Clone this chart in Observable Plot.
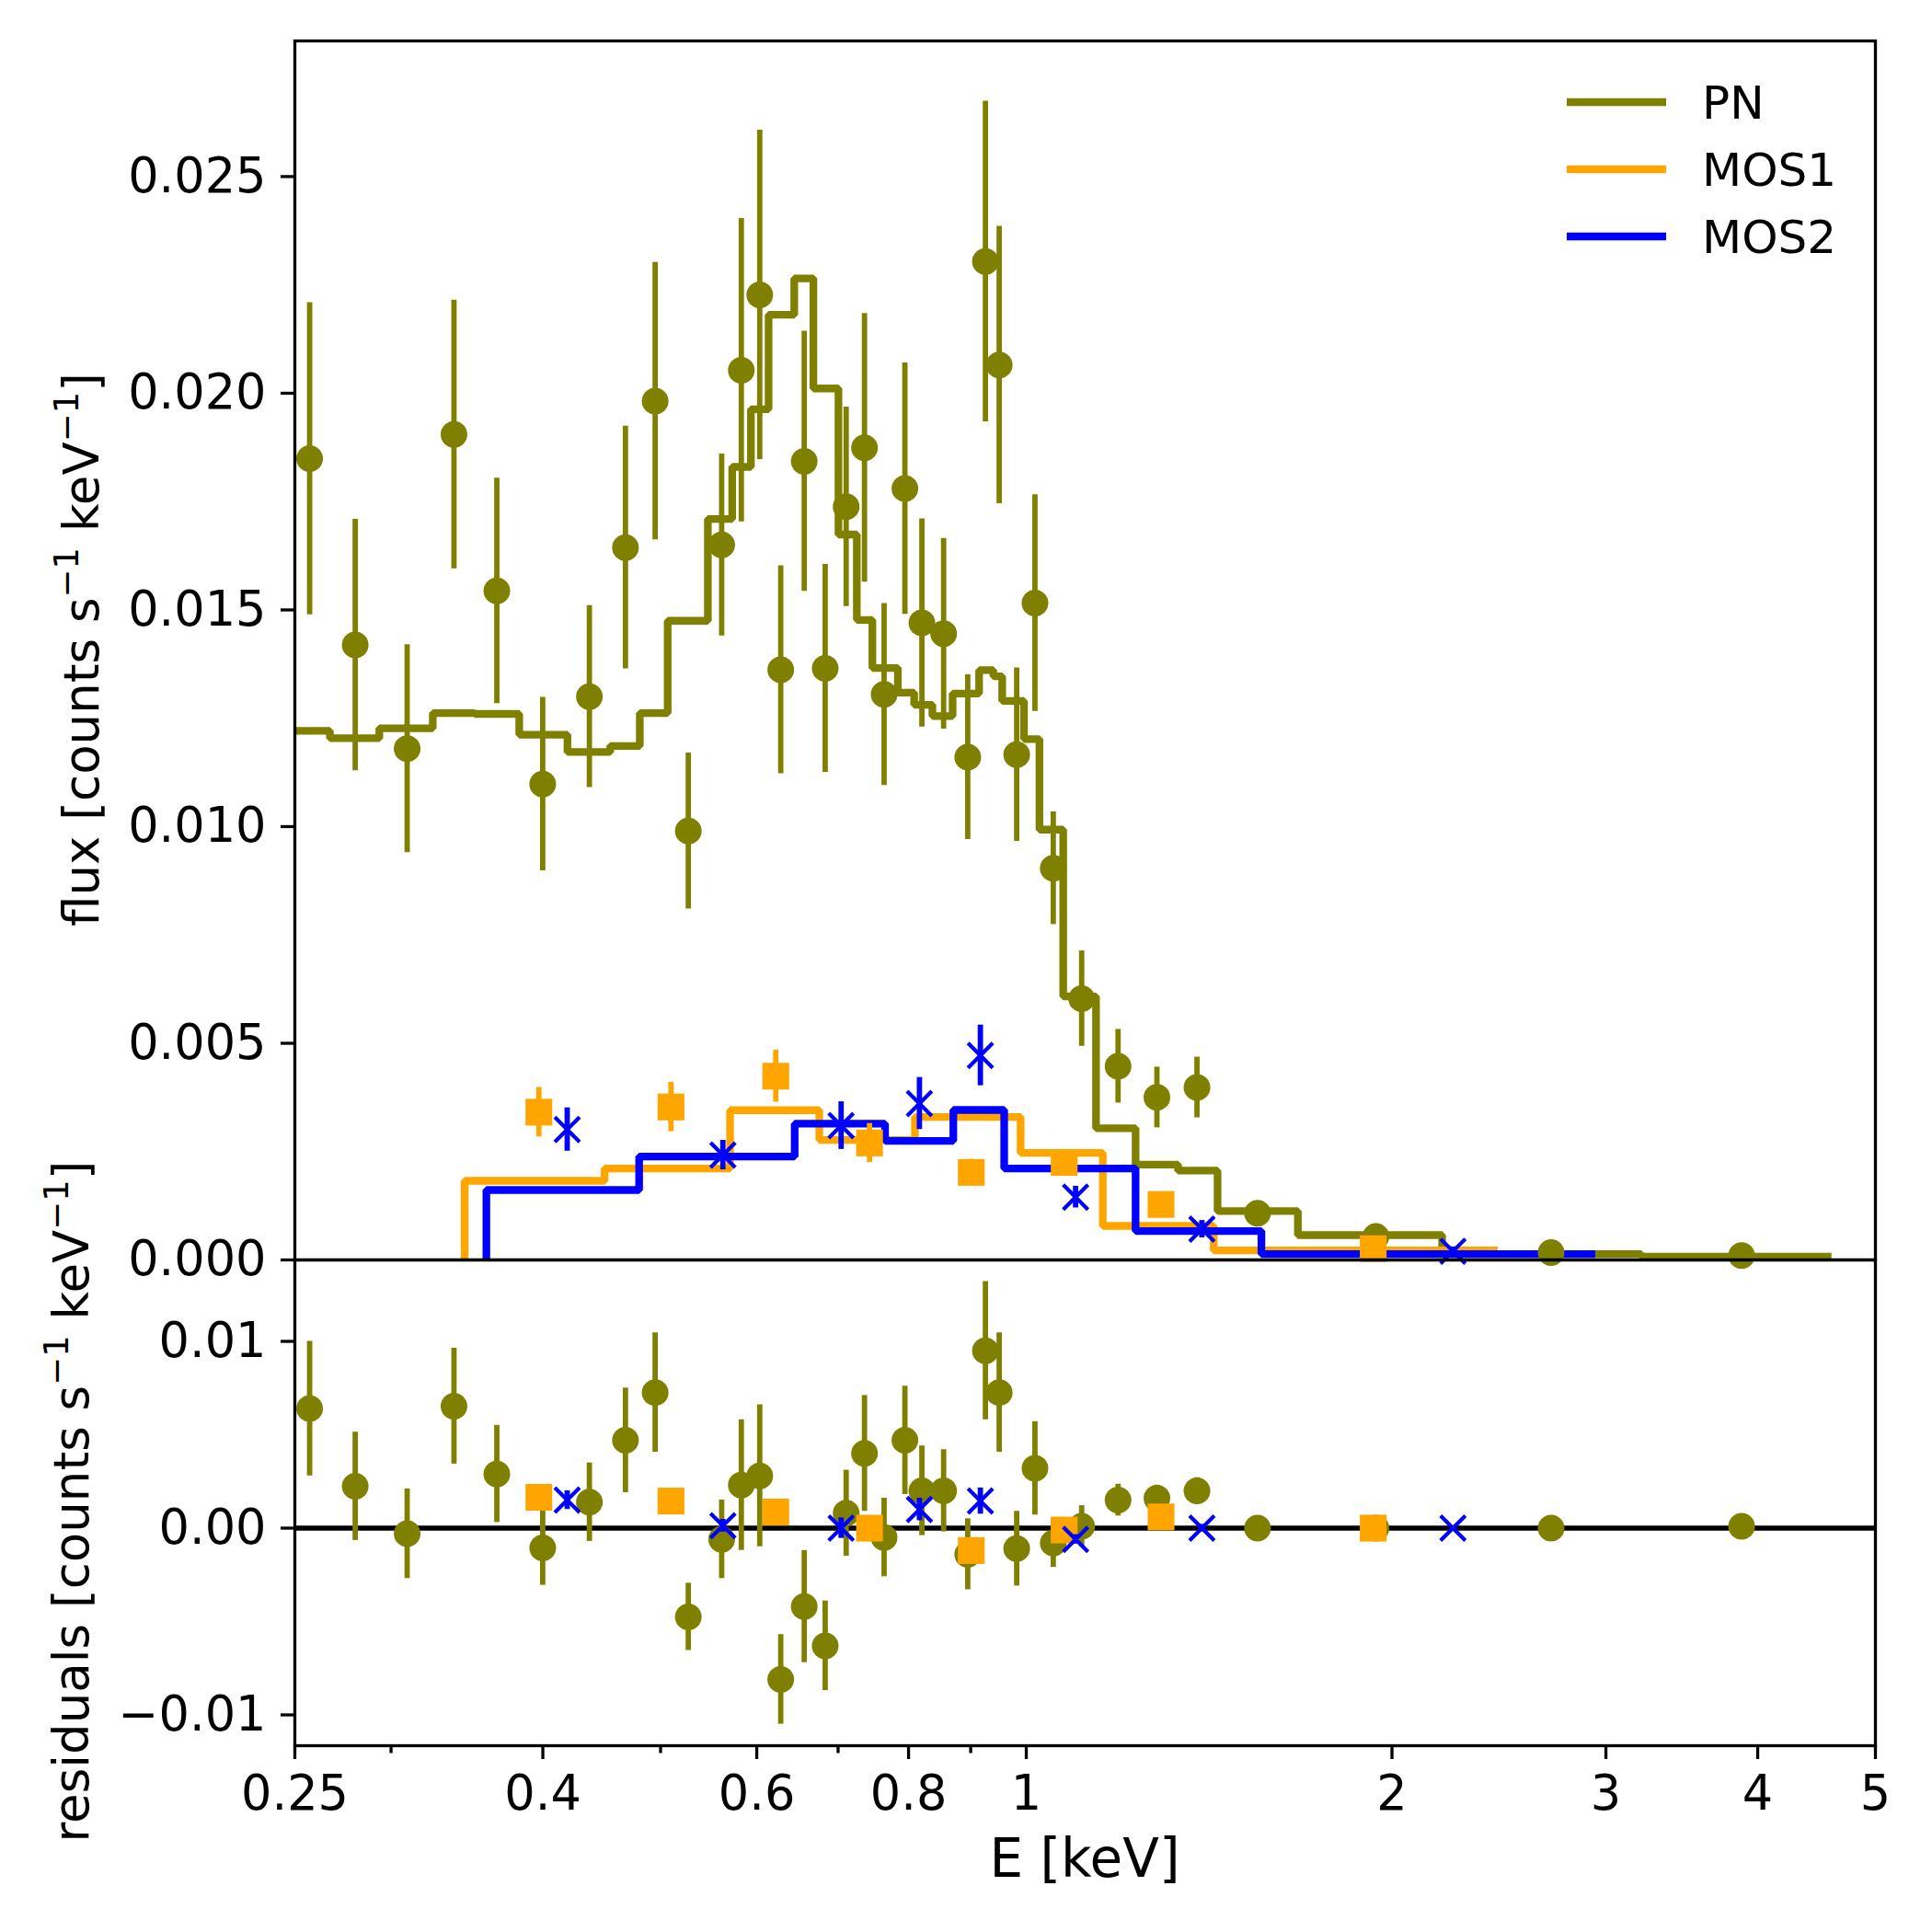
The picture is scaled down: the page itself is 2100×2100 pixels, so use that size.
<!DOCTYPE html>
<html>
<head>
<meta charset="utf-8">
<script src="https://cdn.jsdelivr.net/npm/d3@7"></script>
<script src="https://cdn.jsdelivr.net/npm/@observablehq/plot@0.6"></script>
<style>
  body { margin: 0; background: #fff; }
  #chart { position: relative; width: 2100px; height: 2100px; background: #fff; font-family: "DejaVu Sans", sans-serif; }
  #chart > svg { position: absolute; left: 0; }
</style>
</head>
<body>
<div id="chart"></div>
<script>
// ---------- data ----------
const seriesNames = ["PN", "MOS1", "MOS2"];
const seriesColors = ["olive", "orange", "blue"];

// PN data points
const pnE     = [0.2571, 0.2803, 0.3093, 0.338, 0.3666, 0.3999, 0.4369, 0.4678, 0.4949, 0.527, 0.5614, 0.5827, 0.6034, 0.6279, 0.6565, 0.6831, 0.7108, 0.7359, 0.7638, 0.7945, 0.8205, 0.855, 0.895, 0.9255, 0.950, 0.982, 1.0166, 1.0525, 1.1107, 1.19, 1.281, 1.382, 1.55, 1.94, 2.704, 3.88];
const pnFlux  = [0.01849, 0.01419, 0.0118, 0.01905, 0.01544, 0.01098, 0.0130, 0.01644, 0.01982, 0.0099, 0.0165, 0.02053, 0.02227, 0.01362, 0.01843, 0.01365, 0.01738, 0.01874, 0.01305, 0.0178, 0.0147, 0.01445, 0.0116, 0.02304, 0.02065, 0.01166, 0.01516, 0.00904, 0.00603, 0.00447, 0.00375, 0.00398, 0.00108, 0.00054, 0.00017, 0.0001];
const pnErr   = [0.0036, 0.0029, 0.0024, 0.0031, 0.0026, 0.0020, 0.0021, 0.0028, 0.0032, 0.0018, 0.0021, 0.0035, 0.0038, 0.0024, 0.0030, 0.0024, 0.0023, 0.0031, 0.0021, 0.0029, 0.0024, 0.0022, 0.0019, 0.0037, 0.0032, 0.0020, 0.0025, 0.0013, 0.0011, 0.00085, 0.0007, 0.0007, 0.00025, 0.00015, 0.0001, 0.0001];
const pnResid = [0.0064, 0.00224, -0.0003, 0.00653, 0.0029, -0.00106, 0.00139, 0.0047, 0.00726, -0.00475, -0.0006, 0.0023, 0.0028, -0.0081, -0.0042, -0.0063, 0.0008, 0.004, -0.0005, 0.0047, 0.002, 0.002, -0.0014, 0.0095, 0.00726, -0.0011, 0.0032, -0.0008, 0.0001, 0.0015, 0.0016, 0.002, 0.0, 0.0, 0.0, 0.0001];

// MOS1 data points
const m1E     = [0.397, 0.510, 0.622, 0.743, 0.901, 1.0745, 1.291, 1.93];
const m1Flux  = [0.00341, 0.00353, 0.00424, 0.0027, 0.00202, 0.00225, 0.00128, 0.00026];
const m1Err   = [0.00057, 0.00057, 0.0006, 0.00045, 0.0003, 0.0003, 0.00025, 0.0001];
const m1Resid = [0.00165, 0.00145, 0.00086, 0.0, -0.0012, -0.0001, 0.0006, 0.0];

// MOS2 data points
const m2E     = [0.4189, 0.5627, 0.704, 0.8167, 0.9167, 1.098, 1.395, 2.245];
const m2Flux  = [0.00301, 0.00242, 0.0031, 0.00361, 0.00472, 0.00145, 0.00071, 0.0002];
const m2Err   = [0.0005, 0.00034, 0.00055, 0.0006, 0.0007, 0.00025, 0.0002, 0.0001];
const m2Resid = [0.0015, 0.00013, 0.0, 0.001, 0.00145, -0.0006, 0.0, 0.0];

// step models: bin edges and values
const pnModelEdges = [0.25, 0.2672, 0.2934, 0.3247, 0.3516, 0.3825, 0.4191, 0.4545, 0.4807, 0.5068, 0.5469, 0.5727, 0.5934, 0.6136, 0.6442, 0.668, 0.7005, 0.7253, 0.747, 0.784, 0.8086, 0.837, 0.8697, 0.9145, 0.9395, 0.9554, 0.9957, 1.0253, 1.0725, 1.1413, 1.2302, 1.3333, 1.437, 1.6733, 2.1995, 3.208, 4.60];
const pnModelVals  = [0.01221, 0.01204, 0.01227, 0.01262, 0.0126, 0.01212, 0.01172, 0.01186, 0.01262, 0.01475, 0.0171, 0.0183, 0.01963, 0.02181, 0.02265, 0.02011, 0.01674, 0.01477, 0.01366, 0.01309, 0.01281, 0.01255, 0.01307, 0.01361, 0.01347, 0.0129, 0.01202, 0.00993, 0.00608, 0.003037, 0.002202, 0.00206, 0.001126, 0.000573, 0.000136, 0.0000786];
const m1ModelEdges = [0.3449, 0.4497, 0.5704, 0.6755, 0.8098, 0.9893, 1.1561, 1.4266, 2.4435];
const m1ModelVals  = [0.001826, 0.00211, 0.003455, 0.002769, 0.0033, 0.00247, 0.000786, 0.00022];
const m2ModelEdges = [0.3594, 0.4801, 0.6447, 0.7652, 0.8709, 0.959, 1.2302, 1.5615, 2.94];
const m2ModelVals  = [0.001614, 0.002387, 0.003143, 0.002748, 0.003461, 0.00211, 0.000667, 0.000136];

// axis ticks
const fluxTicks = [0, 0.005, 0.01, 0.015, 0.02, 0.025];
const residTicks = [-0.01, 0, 0.01];
const xMajorTicks = [0.25, 0.4, 0.6, 0.8, 1, 2, 3, 4, 5];
const xMinorTicks = [0.3, 0.5, 0.7, 0.9];

// ---------- build tables ----------
const pts = (E, F, Er, Rs) => E.map((e, i) => ({E: e, f: F[i], err: Er[i], r: Rs[i]}));
const pn = pts(pnE, pnFlux, pnErr, pnResid);
const m1 = pts(m1E, m1Flux, m1Err, m1Resid);
const m2 = pts(m2E, m2Flux, m2Err, m2Resid);

function steps(edges, vals, fromZero) {
  const out = [];
  if (fromZero) out.push({E: edges[0], v: 0});
  vals.forEach((v, i) => out.push({E: edges[i], v}));
  out.push({E: edges[edges.length - 1], v: vals[vals.length - 1]});
  return out;
}
const pnModel = steps(pnModelEdges, pnModelVals, false);
const m1Model = steps(m1ModelEdges, m1ModelVals, true);
const m2Model = steps(m2ModelEdges, m2ModelVals, true);

const [cPN, cM1, cM2] = seriesColors;
const FONT = "DejaVu Sans";
const TICKFS = 52.5;
const baseStyle = {background: "transparent", fontFamily: FONT, fontSize: TICKFS + "px", overflow: "visible", color: "black"};
const ERRW = 5.8, LINEW = 8.3, SPINE = 3.3;

function dataMarks(key) {
  return [
    Plot.ruleX(pn, {x: "E", y1: d => d[key] - d.err, y2: d => d[key] + d.err, stroke: cPN, strokeWidth: ERRW}),
    Plot.dot(pn, {x: "E", y: key, r: 14.5, fill: cPN}),
    Plot.ruleX(m1, {x: "E", y1: d => d[key] - d.err, y2: d => d[key] + d.err, stroke: cM1, strokeWidth: ERRW}),
    Plot.dot(m1, {x: "E", y: key, r: 16.4, symbol: "square", fill: cM1}),
    Plot.ruleX(m2, {x: "E", y1: d => d[key] - d.err, y2: d => d[key] + d.err, stroke: cM2, strokeWidth: ERRW}),
    Plot.dot(m2, {x: "E", y: key, r: 12.3, symbol: "times", stroke: cM2, strokeWidth: 4.2, fill: "none"})
  ];
}

// ---------- top panel ----------
const topPlot = Plot.plot({
  width: 2100, height: 1400,
  marginLeft: 320, marginRight: 62, marginTop: 44, marginBottom: 31,
  style: baseStyle,
  x: {type: "log", domain: [0.25, 5], axis: null},
  y: {domain: [0, 0.02813], label: null},
  marks: [
    Plot.axisY({ticks: fluxTicks, tickFormat: d3.format(".3f"), tickSize: 15, tickPadding: 16, strokeWidth: SPINE, label: null, fontSize: TICKFS}),
    Plot.line(pnModel, {x: "E", y: "v", curve: "step-after", stroke: cPN, strokeWidth: LINEW, strokeLinejoin: "miter", strokeLinecap: "butt"}),
    Plot.line(m1Model, {x: "E", y: "v", curve: "step-after", stroke: cM1, strokeWidth: LINEW, strokeLinejoin: "miter", strokeLinecap: "butt"}),
    Plot.line(m2Model, {x: "E", y: "v", curve: "step-after", stroke: cM2, strokeWidth: LINEW, strokeLinejoin: "miter", strokeLinecap: "butt"}),
    ...dataMarks("f"),
    Plot.frame({stroke: "black", strokeWidth: SPINE})
  ]
});
topPlot.style.top = "0px";

// ---------- residual panel ----------
const botPlot = Plot.plot({
  width: 2100, height: 761,
  marginLeft: 320, marginRight: 62, marginTop: 30, marginBottom: 203,
  style: baseStyle,
  x: {type: "log", domain: [0.25, 5], label: null},
  y: {domain: [-0.01165, 0.01436], label: null},
  marks: [
    Plot.axisY({ticks: residTicks, tickFormat: d3.format(".2f"), tickSize: 15, tickPadding: 16, strokeWidth: SPINE, label: null, fontSize: TICKFS}),
    Plot.axisX({ticks: xMajorTicks, tickFormat: d3.format("~g"), tickSize: 15, tickPadding: 17.5, strokeWidth: SPINE, label: null, fontSize: TICKFS}),
    Plot.axisX({ticks: xMinorTicks, tickFormat: () => "", tickSize: 8.5, strokeWidth: SPINE, label: null}),
    Plot.ruleY([0], {stroke: "black", strokeWidth: 5.5}),
    ...dataMarks("r"),
    Plot.frame({stroke: "black", strokeWidth: SPINE})
  ]
});
botPlot.style.top = "1339px";

const chart = document.getElementById("chart");
chart.appendChild(topPlot);
chart.appendChild(botPlot);

// ---------- labels & legend overlay ----------
const NS = "http://www.w3.org/2000/svg";
const ov = document.createElementNS(NS, "svg");
ov.setAttribute("width", 2100); ov.setAttribute("height", 2100);
ov.style.top = "0px"; ov.style.pointerEvents = "none";
ov.setAttribute("font-family", FONT);
chart.appendChild(ov);

function mathLabel(parent, parts, attrs) {
  const t = document.createElementNS(NS, "text");
  for (const k in attrs) t.setAttribute(k, attrs[k]);
  let raised = false;
  for (const [s, sup] of parts) {
    const ts = document.createElementNS(NS, "tspan");
    ts.textContent = s;
    if (sup && !raised) { ts.setAttribute("dy", -22); raised = true; }
    else if (!sup && raised) { ts.setAttribute("dy", 22); raised = false; }
    if (sup) ts.setAttribute("font-size", 37);
    t.appendChild(ts);
  }
  parent.appendChild(t);
  return t;
}

mathLabel(ov, [["flux [counts s", false], ["\u22121", true], [" keV", false], ["\u22121", true], ["]", false]],
  {"font-size": 53, "text-anchor": "middle", transform: "translate(107,706) rotate(-90)"});
mathLabel(ov, [["residuals [counts s", false], ["\u22121", true], [" keV", false], ["\u22121", true], ["]", false]],
  {"font-size": 53, "text-anchor": "middle", transform: "translate(96,1632) rotate(-90)"});
mathLabel(ov, [["E [keV]", false]], {"font-size": 58, "text-anchor": "middle", x: 1179, y: 2040});

// legend
const legendY = [111, 184, 257];
seriesNames.forEach((name, i) => {
  const ln = document.createElementNS(NS, "line");
  ln.setAttribute("x1", 1703); ln.setAttribute("x2", 1811);
  ln.setAttribute("y1", legendY[i]); ln.setAttribute("y2", legendY[i]);
  ln.setAttribute("stroke", seriesColors[i]); ln.setAttribute("stroke-width", 8.3);
  ov.appendChild(ln);
  const tx = document.createElementNS(NS, "text");
  tx.setAttribute("x", 1850); tx.setAttribute("y", legendY[i] + 18.3);
  tx.setAttribute("font-size", 50);
  tx.textContent = name;
  ov.appendChild(tx);
});
</script>
</body>
</html>
